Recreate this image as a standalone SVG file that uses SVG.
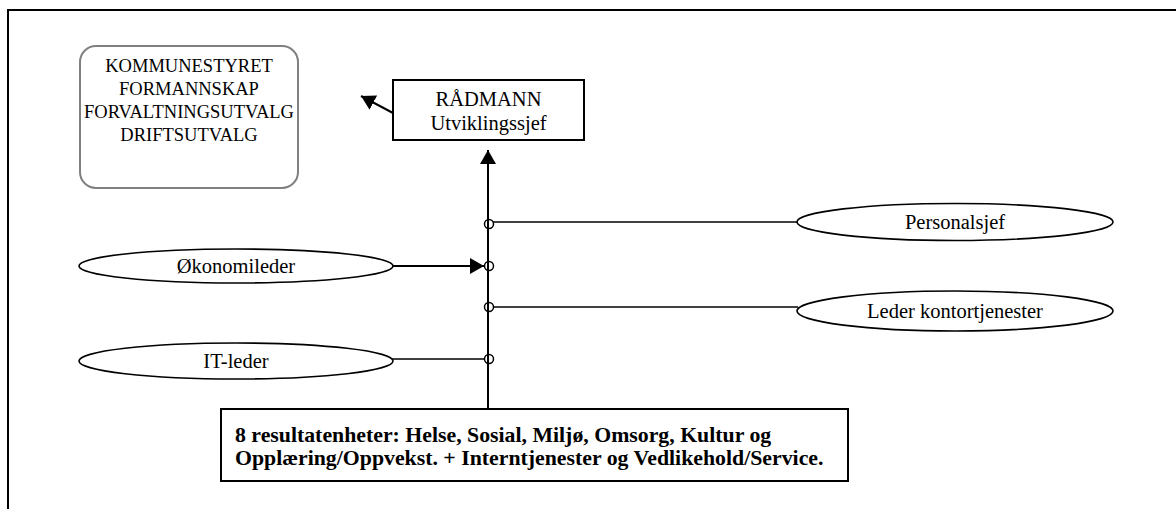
<svg xmlns="http://www.w3.org/2000/svg" width="1176" height="509" viewBox="0 0 1176 509">
  <style>
    text { font-family: "Liberation Serif", "Times New Roman", "DejaVu Serif", serif; fill: #000; }
    .t { font-size: 20.5px; }
    .s { font-size: 18.5px; }
    .b { font-size: 21.8px; font-weight: bold; }
    .box { fill: #fff; stroke: #000; stroke-width: 2; }
    .oval { fill: #fff; stroke: #000; stroke-width: 1.6; }
    .link { fill: none; stroke: #000; stroke-width: 2; }
    .thin { fill: none; stroke: #000; stroke-width: 1.6; }
    .dot { fill: none; stroke: #000; stroke-width: 1.5; }
  </style>
  <defs>
    <marker id="headBig" viewBox="0 0 14 16" refX="14" refY="8" markerWidth="14" markerHeight="16" markerUnits="userSpaceOnUse" orient="auto">
      <path d="M0,0 L14,8 L0,16 Z" fill="#000"/>
    </marker>
  </defs>

  <rect width="1176" height="509" fill="#fff"/>
  <!-- page frame (only top and left edges fall inside the view) -->
  <path d="M8,509 V10 H1176" fill="none" stroke="#000" stroke-width="2"/>

  <g id="connectors">
    <!-- spine from the result units up to the chief executive -->
    <line class="link" x1="488" y1="409" x2="488" y2="150" marker-end="url(#headBig)"/>
    <!-- chief executive reports to the political bodies -->
    <line class="link" x1="393" y1="113" x2="361" y2="96" marker-end="url(#headBig)"/>
    <line class="thin" x1="493" y1="222" x2="797" y2="222"/>
    <line class="link" x1="392" y1="266" x2="484" y2="266" marker-end="url(#headBig)"/>
    <line class="thin" x1="493" y1="307" x2="798" y2="307"/>
    <line class="thin" x1="392" y1="359" x2="484" y2="359"/>
    <circle class="dot" cx="489" cy="224" r="4.5"/>
    <circle class="dot" cx="489" cy="266" r="4.5"/>
    <circle class="dot" cx="489" cy="307" r="4.5"/>
    <circle class="dot" cx="489" cy="359" r="4.5"/>
  </g>

  <g id="politiske-organ">
    <rect x="80" y="46" width="218" height="142" rx="16" ry="16" fill="#fff" stroke="#808080" stroke-width="2"/>
    <text class="s" x="189" y="72" text-anchor="middle">KOMMUNESTYRET</text>
    <text class="s" x="189" y="95" text-anchor="middle">FORMANNSKAP</text>
    <text class="s" x="189" y="118" text-anchor="middle">FORVALTNINGSUTVALG</text>
    <text class="s" x="189" y="141" text-anchor="middle">DRIFTSUTVALG</text>
  </g>

  <g id="radmann">
    <rect class="box" x="393" y="80" width="191" height="60"/>
    <text class="t" x="488.5" y="106" text-anchor="middle">RÅDMANN</text>
    <text class="t" x="488.5" y="130" text-anchor="middle">Utviklingssjef</text>
  </g>

  <g id="personalsjef">
    <ellipse class="oval" cx="955" cy="222" rx="158" ry="18.5"/>
    <text class="t" x="955" y="229" text-anchor="middle">Personalsjef</text>
  </g>

  <g id="okonomileder">
    <ellipse class="oval" cx="236" cy="266" rx="157" ry="17"/>
    <text class="t" x="236" y="273" text-anchor="middle">Økonomileder</text>
  </g>

  <g id="leder-kontortjenester">
    <ellipse class="oval" cx="955" cy="311" rx="158" ry="20"/>
    <text class="t" x="955" y="318" text-anchor="middle">Leder kontortjenester</text>
  </g>

  <g id="it-leder">
    <ellipse class="oval" cx="236" cy="361" rx="157" ry="18"/>
    <text class="t" x="236" y="368" text-anchor="middle">IT-leder</text>
  </g>

  <g id="resultatenheter">
    <rect class="box" x="221" y="409" width="627" height="72"/>
    <text class="b" x="235" y="442">8 resultatenheter: Helse, Sosial, Miljø, Omsorg, Kultur og</text>
    <text class="b" x="235" y="465">Opplæring/Oppvekst. + Interntjenester og Vedlikehold/Service.</text>
  </g>
</svg>
